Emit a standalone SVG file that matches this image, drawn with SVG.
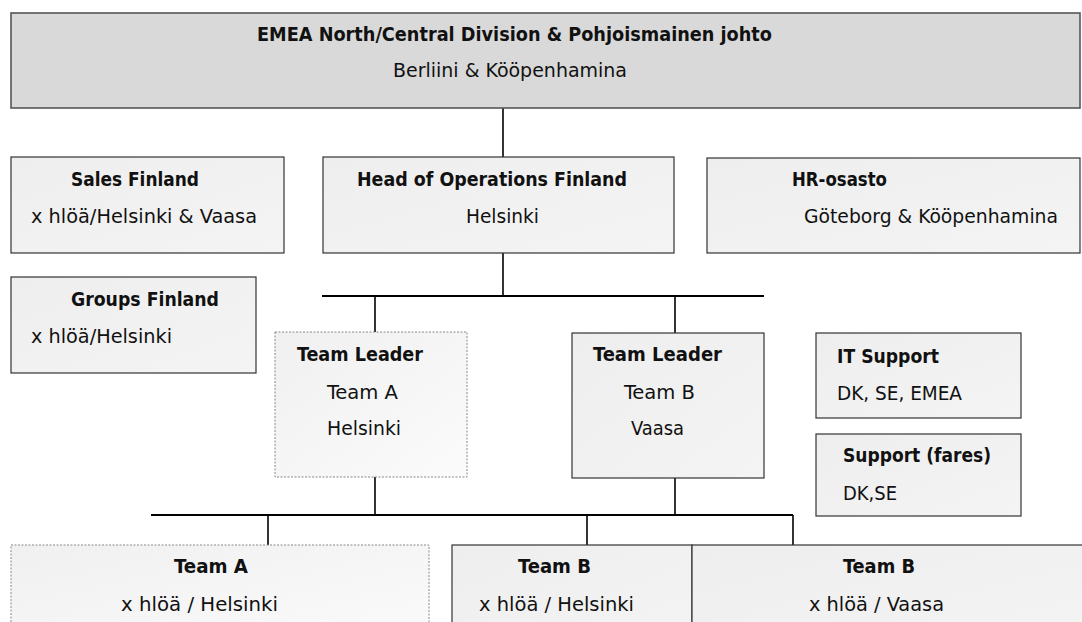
<svg xmlns="http://www.w3.org/2000/svg" width="1082" height="622" viewBox="0 0 1082 622">
<defs>
<linearGradient id="g1" x1="0" y1="0" x2="1" y2="1">
<stop offset="0" stop-color="#eeeeee"/>
<stop offset="1" stop-color="#f4f4f4"/>
</linearGradient>
<linearGradient id="g2" x1="0" y1="0" x2="1" y2="1">
<stop offset="0" stop-color="#f0f0f0"/>
<stop offset="1" stop-color="#fbfbfb"/>
</linearGradient>
</defs>
<style>
text{font-family:"DejaVu Sans Condensed","DejaVu Sans","Liberation Sans",sans-serif;font-size:19px;fill:#111;}
.b{font-weight:bold;}
.box{fill:url(#g1);stroke:#333;stroke-width:1.2;}
.dot{fill:url(#g2);stroke:#888;stroke-width:1;stroke-dasharray:2 1.5;}
.top{fill:#d9d9d9;stroke:#555;stroke-width:1.6;}
.ln{stroke:#000;stroke-width:1.6;fill:none;}
.bus{stroke:#000;stroke-width:2.2;fill:none;}
</style>
<rect width="1082" height="622" fill="#fff"/>
<g id="connectors">
<line class="ln" x1="503" y1="108" x2="503" y2="157"/>
<line class="ln" x1="503" y1="253" x2="503" y2="296"/>
<line class="bus" x1="322" y1="296" x2="764" y2="296"/>
<line class="ln" x1="375" y1="296" x2="375" y2="332"/>
<line class="ln" x1="675" y1="296" x2="675" y2="333"/>
<line class="ln" x1="375" y1="477" x2="375" y2="515"/>
<line class="ln" x1="675" y1="478" x2="675" y2="515"/>
<line class="bus" x1="151" y1="515" x2="793" y2="515"/>
<line class="ln" x1="268" y1="515" x2="268" y2="545"/>
<line class="ln" x1="587" y1="515" x2="587" y2="545"/>
<line class="ln" x1="793" y1="515" x2="793" y2="545"/>
</g>
<g id="division">
<rect class="top" x="11" y="13" width="1069" height="95"/>
<text class="b" x="257" y="41" textLength="515" lengthAdjust="spacingAndGlyphs">EMEA North/Central Division &amp; Pohjoismainen johto</text>
<text x="393" y="77" textLength="234" lengthAdjust="spacingAndGlyphs">Berliini &amp; Kööpenhamina</text>
</g>
<g id="sales">
<rect class="box" x="11" y="157" width="273" height="96"/>
<text class="b" x="71" y="186" textLength="128" lengthAdjust="spacingAndGlyphs">Sales Finland</text>
<text x="31" y="223" textLength="226" lengthAdjust="spacingAndGlyphs">x hlöä/Helsinki &amp; Vaasa</text>
</g>
<g id="head">
<rect class="box" x="323" y="157" width="351" height="96"/>
<text class="b" x="357" y="186" textLength="270" lengthAdjust="spacingAndGlyphs">Head of Operations Finland</text>
<text x="466" y="223" textLength="73" lengthAdjust="spacingAndGlyphs">Helsinki</text>
</g>
<g id="hr">
<rect class="box" x="707" y="158" width="373" height="95"/>
<text class="b" x="792" y="186" textLength="95" lengthAdjust="spacingAndGlyphs">HR-osasto</text>
<text x="804" y="223" textLength="254" lengthAdjust="spacingAndGlyphs">Göteborg &amp; Kööpenhamina</text>
</g>
<g id="groups">
<rect class="box" x="11" y="277" width="245" height="96"/>
<text class="b" x="71" y="306" textLength="148" lengthAdjust="spacingAndGlyphs">Groups Finland</text>
<text x="31" y="343" textLength="141" lengthAdjust="spacingAndGlyphs">x hlöä/Helsinki</text>
</g>
<g id="tl-a">
<rect class="dot" x="275" y="332" width="192" height="145"/>
<text class="b" x="297" y="361" textLength="126" lengthAdjust="spacingAndGlyphs">Team Leader</text>
<text x="327" y="399" textLength="71" lengthAdjust="spacingAndGlyphs">Team A</text>
<text x="327" y="435" textLength="74" lengthAdjust="spacingAndGlyphs">Helsinki</text>
</g>
<g id="tl-b">
<rect class="box" x="572" y="333" width="192" height="145"/>
<text class="b" x="593" y="361" textLength="129" lengthAdjust="spacingAndGlyphs">Team Leader</text>
<text x="624" y="399" textLength="71" lengthAdjust="spacingAndGlyphs">Team B</text>
<text x="631" y="435" textLength="53" lengthAdjust="spacingAndGlyphs">Vaasa</text>
</g>
<g id="it">
<rect class="box" x="816" y="333" width="205" height="85"/>
<text class="b" x="837" y="363" textLength="102" lengthAdjust="spacingAndGlyphs">IT Support</text>
<text x="837" y="400" textLength="125" lengthAdjust="spacingAndGlyphs">DK, SE, EMEA</text>
</g>
<g id="support">
<rect class="box" x="816" y="434" width="205" height="82"/>
<text class="b" x="843" y="462" textLength="148" lengthAdjust="spacingAndGlyphs">Support (fares)</text>
<text x="843" y="500" textLength="54" lengthAdjust="spacingAndGlyphs">DK,SE</text>
</g>
<g id="team-a">
<rect class="dot" x="11" y="545" width="418" height="100"/>
<text class="b" x="174" y="573" textLength="74" lengthAdjust="spacingAndGlyphs">Team A</text>
<text x="121" y="611" textLength="157" lengthAdjust="spacingAndGlyphs">x hlöä / Helsinki</text>
</g>
<g id="team-b-hel">
<rect class="box" x="452" y="545" width="240" height="100"/>
<text class="b" x="518" y="573" textLength="73" lengthAdjust="spacingAndGlyphs">Team B</text>
<text x="479" y="611" textLength="155" lengthAdjust="spacingAndGlyphs">x hlöä / Helsinki</text>
</g>
<g id="team-b-vaa">
<rect class="box" x="692" y="545" width="400" height="100"/>
<text class="b" x="843" y="573" textLength="72" lengthAdjust="spacingAndGlyphs">Team B</text>
<text x="809" y="611" textLength="135" lengthAdjust="spacingAndGlyphs">x hlöä / Vaasa</text>
</g>
</svg>
